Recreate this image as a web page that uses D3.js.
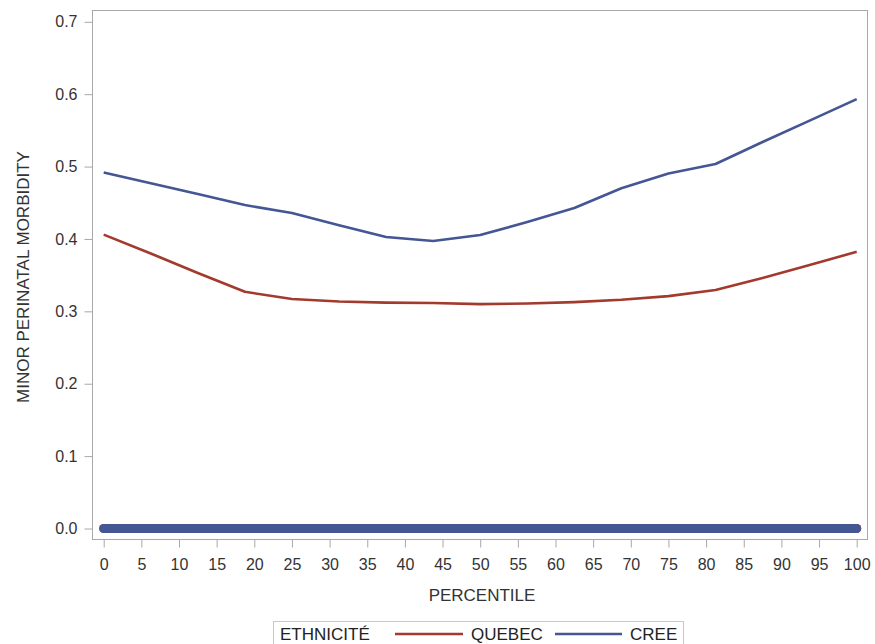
<!DOCTYPE html>
<html>
<head>
<meta charset="utf-8">
<script src="https://cdn.jsdelivr.net/npm/d3@7"></script>
<style>
  body { margin: 0; background: #fff; }
  text { font-family: "Liberation Sans", Arial, sans-serif; }
</style>
</head>
<body>
<div id="chart"></div>
<script>
// percentiles where the curves are evaluated
const percentiles = [0, 6.25, 12.5, 18.75, 25, 31.25, 37.5, 43.75, 50, 56.25, 62.5, 68.75, 75, 81.25, 87.5, 93.75, 100];
const quebec = [0.406, 0.380, 0.353, 0.327, 0.317, 0.3135, 0.312, 0.3115, 0.310, 0.3108, 0.3128, 0.316, 0.321, 0.3294, 0.346, 0.364, 0.3823];
const cree = [0.4917, 0.477, 0.462, 0.4468, 0.4358, 0.419, 0.4026, 0.3972, 0.4054, 0.4233, 0.4427, 0.470, 0.4903, 0.5035, 0.534, 0.5635, 0.5932];
// observed points plotted at zero (thick band along the bottom)
const baseline = [0, 100];
const yTicks = [0, 0.1, 0.2, 0.3, 0.4, 0.5, 0.6, 0.7];
const xTicks = d3.range(0, 101, 5);

const series = [
  { name: 'QUEBEC', values: quebec, color: '#A23A2E' },
  { name: 'CREE', values: cree, color: '#445694' }
];

let w = 875, h = 644;

let svg = d3.select('#chart').append('svg')
  .attr('width', w)
  .attr('height', h);

let frame = { left: 92.5, top: 10.5, right: 867.5, bottom: 539.5 };

let x = d3.scaleLinear().domain([0, 100]).range([103.7, 856.7]);
let y = d3.scaleLinear().domain([0, 0.7]).range([528.5, 21.8]);

// frame
svg.append('rect')
  .attr('x', frame.left).attr('y', frame.top)
  .attr('width', frame.right - frame.left)
  .attr('height', frame.bottom - frame.top)
  .attr('fill', 'none')
  .attr('stroke', '#a8a8a8');

// y axis
let yAxis = svg.append('g')
  .attr('transform', `translate(${frame.left},0)`)
  .call(d3.axisLeft(y).tickValues(yTicks).tickFormat(d3.format('.1f')).tickSize(8).tickPadding(7));
yAxis.select('.domain').remove();

// x axis
let xAxis = svg.append('g')
  .attr('transform', `translate(0,${frame.bottom})`)
  .call(d3.axisBottom(x).tickValues(xTicks).tickSize(8).tickPadding(11));
xAxis.select('.domain').remove();

svg.selectAll('.tick line').attr('stroke', '#a8a8a8');
svg.selectAll('.tick text')
  .attr('fill', '#333')
  .style('font-size', '16px')
  .style('font-family', '"Liberation Sans", Arial, sans-serif');

// axis labels
svg.append('text')
  .attr('x', 482)
  .attr('y', 601)
  .attr('text-anchor', 'middle')
  .attr('fill', '#333')
  .style('font-size', '17px')
  .text('PERCENTILE');

svg.append('text')
  .attr('transform', `translate(29,${(frame.top + frame.bottom) / 2 + 2}) rotate(-90)`)
  .attr('text-anchor', 'middle')
  .attr('fill', '#333')
  .style('font-size', '17px')
  .text('MINOR PERINATAL MORBIDITY');

// thick band at zero
series.forEach(function(s) {
  svg.append('line')
    .attr('x1', x(baseline[0])).attr('x2', x(baseline[1]))
    .attr('y1', y(0)).attr('y2', y(0))
    .attr('stroke', s.color)
    .attr('stroke-width', 9)
    .attr('stroke-linecap', 'round');
});

let line = d3.line()
  .x(function(d, i) { return x(percentiles[i]); })
  .y(function(d) { return y(d); });

series.forEach(function(s) {
  svg.append('path')
    .datum(s.values)
    .attr('d', line)
    .attr('fill', 'none')
    .attr('stroke', s.color)
    .attr('stroke-width', 2.6)
    .attr('stroke-linejoin', 'round');
});

// legend
let lg = svg.append('g');
lg.append('rect')
  .attr('x', 273.5).attr('y', 621.5)
  .attr('width', 410).attr('height', 30)
  .attr('fill', 'none')
  .attr('stroke', '#c8c8c8');
lg.append('text')
  .attr('x', 280).attr('y', 640)
  .attr('fill', '#222')
  .style('font-size', '17px')
  .text('ETHNICITÉ');

let legendPos = [{ x1: 395, x2: 463, tx: 471 }, { x1: 555, x2: 622, tx: 630 }];
series.forEach(function(s, i) {
  let p = legendPos[i];
  lg.append('line')
    .attr('x1', p.x1).attr('x2', p.x2)
    .attr('y1', 634).attr('y2', 634)
    .attr('stroke', s.color)
    .attr('stroke-width', 2.6);
  lg.append('text')
    .attr('x', p.tx).attr('y', 640)
    .attr('fill', '#222')
    .style('font-size', '17px')
    .text(s.name);
});
</script>
</body>
</html>
